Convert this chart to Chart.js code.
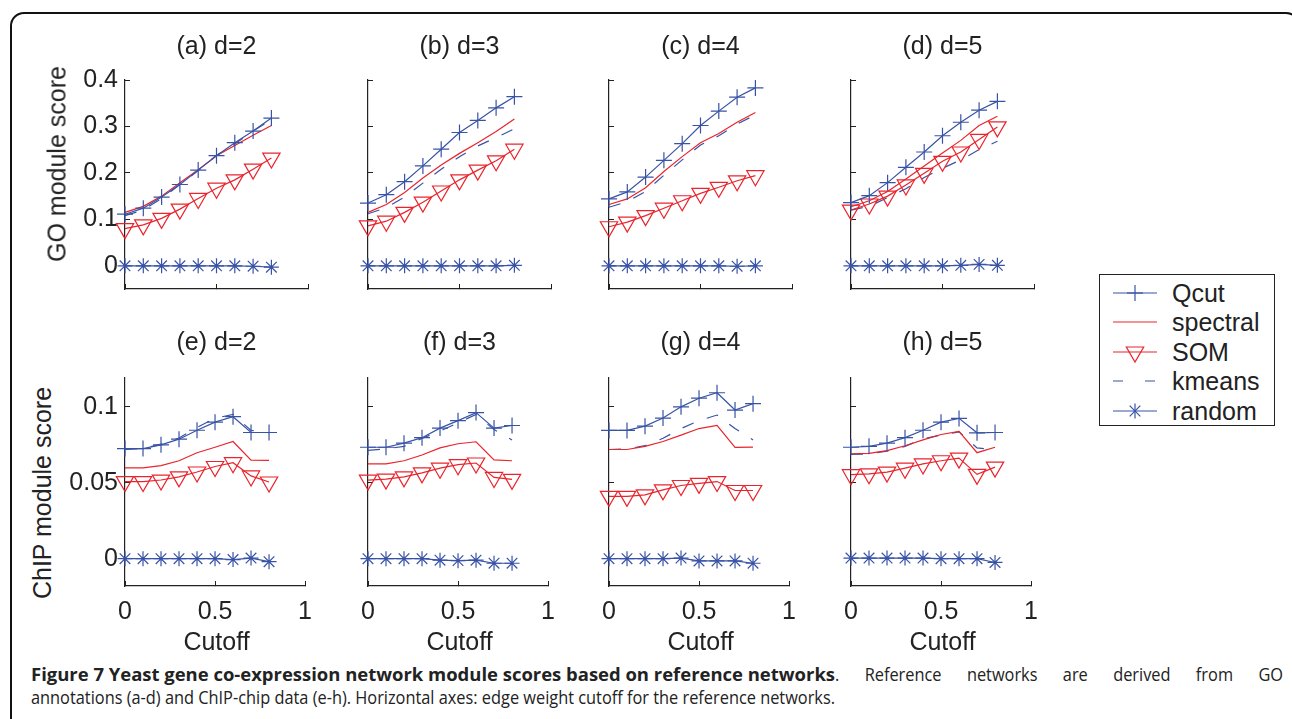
<!DOCTYPE html>
<html>
<head>
<meta charset="utf-8">
<script src="https://cdn.jsdelivr.net/npm/chart.js@4.4.1/dist/chart.umd.min.js"></script>
<style>
  body { margin: 0; width: 1292px; height: 719px; overflow: hidden; background: #fff; position: relative;
         font-family: 'Liberation Sans', Arial, Helvetica, sans-serif; color: #222; }
  .frame { position: absolute; left: 10px; top: 12px; width: 1290px; height: 760px;
           border: 2px solid #111; border-radius: 14px; box-sizing: border-box; }
  canvas { position: absolute; }
  .lbl { position: absolute; font-size: 25px; line-height: 1; white-space: nowrap; transform: translate(-50%, -50%); }
  .ylab { transform: translate(-50%, -50%) rotate(-90deg); }
  .legend { position: absolute; left: 1099px; top: 274px; width: 176px; height: 152px;
            border: 1.5px solid #222; box-sizing: border-box; background: #fff; }
  .legend .row { position: absolute; left: 0; height: 28px; width: 100%; }
  .legend svg { position: absolute; left: 13px; top: 0; }
  .legend span { position: absolute; left: 72px; top: 2px; font-size: 25px; line-height: 24px; }
  .cap { position: absolute; font-family: 'Open Sans', sans-serif; font-size: 18px; line-height: 23px;
         color: #222; white-space: nowrap; transform-origin: 0 0; }
</style>
</head>
<body>
<div class="frame"></div>
<div id="panels"></div>

<div class="legend">
  <div class="row" style="top:4px">
    <svg width="46" height="28"><line x1="0" y1="14" x2="44" y2="14" stroke="#3853a6" stroke-width="1.2"/>
      <line x1="14" y1="14" x2="30" y2="14" stroke="#3853a6" stroke-width="1.2"/><line x1="22" y1="6" x2="22" y2="22" stroke="#3853a6" stroke-width="1.2"/></svg>
    <span>Qcut</span></div>
  <div class="row" style="top:33px">
    <svg width="46" height="28"><line x1="0" y1="14" x2="44" y2="14" stroke="#e9242c" stroke-width="1.2"/></svg>
    <span>spectral</span></div>
  <div class="row" style="top:63px">
    <svg width="46" height="28"><line x1="0" y1="14" x2="44" y2="14" stroke="#e9242c" stroke-width="1.2"/>
      <polygon points="13.3,9 30.7,9 22,24" fill="none" stroke="#e9242c" stroke-width="1.2"/></svg>
    <span>SOM</span></div>
  <div class="row" style="top:92px">
    <svg width="46" height="28"><line x1="0" y1="14" x2="44" y2="14" stroke="#3853a6" stroke-width="1.2" stroke-dasharray="10 22"/></svg>
    <span>kmeans</span></div>
  <div class="row" style="top:122px">
    <svg width="46" height="28"><line x1="0" y1="14" x2="44" y2="14" stroke="#3853a6" stroke-width="1.2"/>
      <g stroke="#3853a6" stroke-width="1.2"><line x1="22" y1="6.5" x2="22" y2="21.5"/><line x1="16.7" y1="8.7" x2="27.3" y2="19.3"/><line x1="27.3" y1="8.7" x2="16.7" y2="19.3"/></g></svg>
    <span>random</span></div>
</div>

<div class="cap" id="cap1b" style="left:31px;top:663px"><b>Figure 7 Yeast gene co-expression network module scores based on reference networks</b></div>
<div class="cap" id="cap1r" style="left:835px;top:663px">. Reference networks are derived from GO</div>
<div class="cap" id="cap2" style="left:31px;top:686px">annotations (a-d) and ChIP-chip data (e-h). Horizontal axes: edge weight cutoff for the reference networks.</div>

<script>
const cutoff = [0, 0.1, 0.2, 0.3, 0.4, 0.5, 0.6, 0.7, 0.8];
const panelTitles = ['(a) d=2', '(b) d=3', '(c) d=4', '(d) d=5', '(e) d=2', '(f) d=3', '(g) d=4', '(h) d=5'];
const goTicks = [0, 0.1, 0.2, 0.3, 0.4];
const chipTicks = [0, 0.05, 0.1];
const cutoffTicks = [0, 0.5, 1];
const goRange = [-0.05, 0.4];
const chipRange = [-0.018, 0.119];

// one row per panel: (a)-(d) GO scores, (e)-(h) ChIP scores
const qcut = [
  [0.111, 0.124, 0.148, 0.175, 0.206, 0.237, 0.265, 0.290, 0.318],
  [0.135, 0.153, 0.181, 0.215, 0.251, 0.287, 0.313, 0.340, 0.364],
  [0.144, 0.159, 0.191, 0.227, 0.263, 0.302, 0.333, 0.363, 0.383],
  [0.136, 0.151, 0.179, 0.212, 0.245, 0.280, 0.309, 0.335, 0.354],
  [0.0725, 0.0725, 0.0750, 0.0787, 0.0846, 0.0899, 0.0935, 0.0831, 0.0831],
  [0.0734, 0.0734, 0.0761, 0.0797, 0.0860, 0.0909, 0.0962, 0.0860, 0.0877],
  [0.0845, 0.0845, 0.0873, 0.0926, 0.1000, 0.1057, 0.1093, 0.0979, 0.1021],
  [0.0734, 0.0740, 0.0761, 0.0797, 0.0846, 0.0899, 0.0924, 0.0829, 0.0831],
];
const spectral = [
  [0.115, 0.128, 0.150, 0.179, 0.207, 0.237, 0.259, 0.281, 0.302],
  [0.115, 0.132, 0.158, 0.189, 0.217, 0.242, 0.265, 0.289, 0.316],
  [0.132, 0.144, 0.168, 0.203, 0.235, 0.265, 0.285, 0.309, 0.330],
  [0.127, 0.140, 0.160, 0.187, 0.215, 0.243, 0.270, 0.302, 0.322],
  [0.0598, 0.0598, 0.0613, 0.0645, 0.0698, 0.0734, 0.0772, 0.0649, 0.0647],
  [0.0624, 0.0624, 0.0645, 0.0683, 0.0730, 0.0757, 0.0770, 0.0651, 0.0645],
  [0.0719, 0.0719, 0.0740, 0.0772, 0.0814, 0.0857, 0.0878, 0.0733, 0.0735],
  [0.0691, 0.0693, 0.0712, 0.0744, 0.0782, 0.0818, 0.0839, 0.0698, 0.0734],
];
const som = [
  [0.080, 0.088, 0.102, 0.122, 0.145, 0.167, 0.185, 0.208, 0.232],
  [0.086, 0.096, 0.115, 0.137, 0.161, 0.185, 0.206, 0.226, 0.251],
  [0.084, 0.094, 0.108, 0.124, 0.140, 0.156, 0.169, 0.183, 0.194],
  [0.120, 0.133, 0.150, 0.174, 0.199, 0.225, 0.245, 0.272, 0.299],
  [0.0508, 0.0508, 0.0518, 0.0539, 0.0571, 0.0607, 0.0632, 0.0545, 0.0505],
  [0.0518, 0.0524, 0.0539, 0.0565, 0.0596, 0.0619, 0.0630, 0.0535, 0.0522],
  [0.0410, 0.0410, 0.0420, 0.0453, 0.0482, 0.0496, 0.0508, 0.0449, 0.0449],
  [0.0553, 0.0559, 0.0570, 0.0596, 0.0624, 0.0645, 0.0662, 0.0555, 0.0603],
];
const kmeans = [
  [0.108, 0.120, 0.145, 0.175, 0.205, 0.238, 0.262, 0.290, 0.315],
  [0.112, 0.125, 0.148, 0.178, 0.208, 0.235, 0.258, 0.276, 0.295],
  [0.126, 0.138, 0.160, 0.195, 0.228, 0.260, 0.280, 0.305, 0.325],
  [0.120, 0.128, 0.147, 0.166, 0.190, 0.210, 0.228, 0.250, 0.268],
  [0.0720, 0.0725, 0.0755, 0.0795, 0.0865, 0.0925, 0.0950, 0.0845, 0.0830],
  [0.0713, 0.0723, 0.0740, 0.0792, 0.0840, 0.0895, 0.0950, 0.0850, 0.0782],
  [0.0719, 0.0723, 0.0744, 0.0793, 0.0857, 0.0909, 0.0946, 0.0857, 0.0782],
  [0.0687, 0.0690, 0.0708, 0.0740, 0.0789, 0.0814, 0.0835, 0.0730, 0.0718],
];
const random = [
  [0, 0, 0, 0, 0, 0, 0, -0.001, -0.003],
  [0, 0, 0, 0, 0, 0, 0, 0, 0.001],
  [0, 0, 0, 0, 0, 0, 0, -0.001, 0],
  [0, 0, 0, 0, 0, 0, 0.001, 0.003, 0.001],
  [0, 0, 0, 0, 0, 0, -0.0006, 0.0004, -0.002],
  [0, 0, 0, 0, -0.001, -0.0013, -0.001, -0.003, -0.003],
  [0, 0, 0, 0, 0.0004, -0.0015, -0.0015, -0.0015, -0.003],
  [0.0004, 0.0004, 0.0004, 0.0004, 0.0004, 0, 0, 0, -0.0025],
];

const BLUE = '#3853a6', RED = '#e9242c', INK = '#222';
const FONT = { family: "'Liberation Sans', Arial, Helvetica, sans-serif", size: 25 };

// panel layout in page pixels
const AXIS_LEFT = [125, 368, 609, 851];
const AXIS_W = 183;
const ROW_TOP = [73, 371];
const ROW_H = [216, 215];
const PAD_L = 60, PAD_T = 20, PAD_R = 20, PAD_B = 45;

function series(label, values, color, extra) {
  return Object.assign({
    label,
    data: cutoff.map((x, i) => ({ x, y: values[i] })),
    borderColor: color,
    borderWidth: 1.2,
    pointRadius: 0,
    pointBorderColor: color,
    pointBackgroundColor: 'rgba(0,0,0,0)',
    pointBorderWidth: 1.2,
    tension: 0,
    fill: false,
    clip: false,
  }, extra)
}

function axisStyle() {
  return {
    border: { display: true, color: INK, width: 1.2 },
    grid: { drawOnChartArea: false, drawTicks: true, tickLength: -5, color: INK, lineWidth: 1 },
  }
}

function addText(text, x, y, cls) {
  const el = document.createElement('div')
  el.className = 'lbl' + (cls ? ' ' + cls : '')
  el.textContent = text
  el.style.left = x + 'px'
  el.style.top = y + 'px'
  document.body.appendChild(el)
}

function makePanel(p) {
  const row = p < 4 ? 0 : 1, col = p % 4
  const left = AXIS_LEFT[col], top = ROW_TOP[row]
  const canvas = document.createElement('canvas')
  canvas.width = PAD_L + AXIS_W + PAD_R
  canvas.height = PAD_T + ROW_H[row] + PAD_B
  canvas.style.left = (left - PAD_L) + 'px'
  canvas.style.top = (top - PAD_T) + 'px'
  document.getElementById('panels').appendChild(canvas)

  const range = row === 0 ? goRange : chipRange
  const yTicks = row === 0 ? goTicks : chipTicks

  new Chart(canvas, {
    type: 'line',
    data: {
      datasets: [
        series('Qcut', qcut[p], BLUE, { pointStyle: 'cross', pointRadius: 8 }),
        series('spectral', spectral[p], RED),
        series('SOM', som[p], RED, { pointStyle: 'triangle', pointRotation: 180, pointRadius: 10 }),
        series('kmeans', kmeans[p], BLUE, { borderDash: [12, 14] }),
        series('random', random[p], BLUE, { pointStyle: 'star', pointRadius: 7.5 }),
      ],
    },
    options: {
      responsive: false,
      animation: false,
      events: [],
      layout: { padding: { left: 0, top: PAD_T, right: PAD_R, bottom: 0 } },
      plugins: { legend: { display: false }, tooltip: { enabled: false } },
      scales: {
        x: {
          type: 'linear', min: 0, max: 1,
          ...axisStyle(),
          afterBuildTicks: s => { s.ticks = cutoffTicks.map(v => ({ value: v })) },
          afterFit: s => { s.height = PAD_B },
          ticks: {
            color: INK, font: FONT, padding: 16, maxRotation: 0, autoSkip: false,
            callback: v => row === 1 ? String(v) : '',
          },
        },
        y: {
          type: 'linear', min: range[0], max: range[1],
          ...axisStyle(),
          afterBuildTicks: s => { s.ticks = yTicks.map(v => ({ value: v })) },
          afterFit: s => { s.width = PAD_L },
          ticks: {
            color: INK, font: FONT, padding: 12, autoSkip: false,
            callback: v => col === 0 ? String(v) : '',
          },
        },
      },
    },
  })

  addText(panelTitles[p], left + AXIS_W / 2, row === 0 ? 45 : 341)
  if (row === 1) addText('Cutoff', left + AXIS_W / 2, 641)
}

for (let p = 0; p < 8; p++) makePanel(p)
addText('GO module score', 57, 164, 'ylab')
addText('ChIP module score', 42, 493, 'ylab')

// squeeze the caption lines to their column widths
function fitCaption() {
  const squeeze = (el, target) => {
    const s = target / el.getBoundingClientRect().width
    el.style.transform = `scaleX(${s})`
    return s
  }
  const s = squeeze(document.getElementById('cap2'), 804)
  squeeze(document.getElementById('cap1b'), 804)
  const rest = document.getElementById('cap1r')
  rest.style.whiteSpace = 'normal'
  rest.style.width = (448 / s) + 'px'
  rest.style.textAlign = 'justify'
  rest.style.textAlignLast = 'justify'
  rest.style.transform = `scaleX(${s})`
}
fitCaption()
</script>
</body>
</html>
